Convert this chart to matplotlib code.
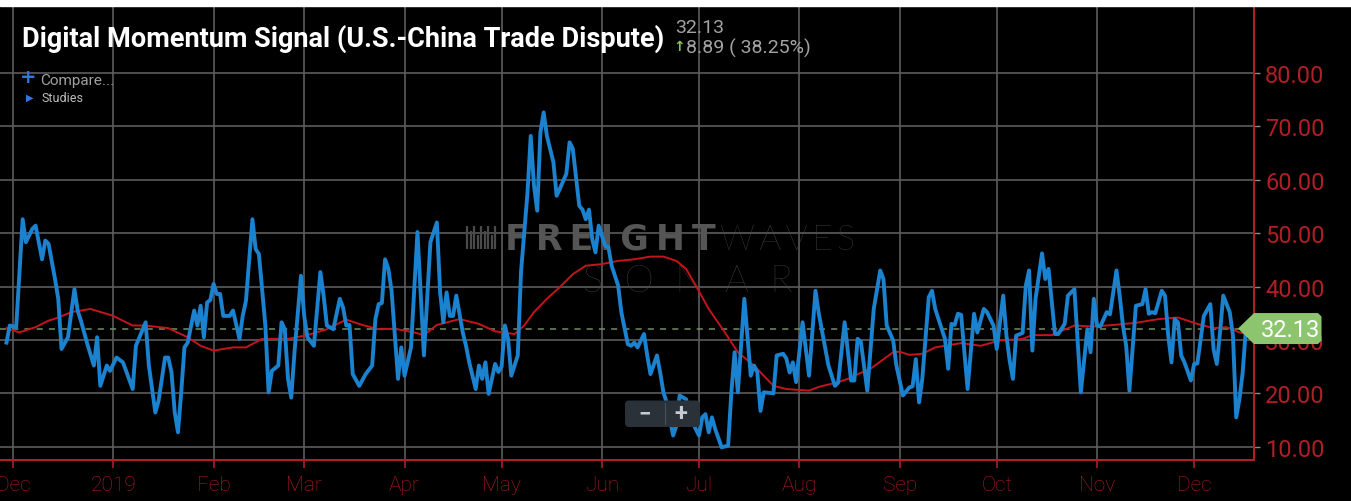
import matplotlib
matplotlib.use('Agg')
import matplotlib.pyplot as plt
import matplotlib.transforms as mtransforms
from matplotlib.patches import Polygon, FancyBboxPatch, Rectangle
from matplotlib.ticker import FormatStrFormatter
import numpy as np

plt.rcParams['font.family'] = ['Roboto', 'DejaVu Sans']

START = np.datetime64('2019-01-01')

# daily momentum signal, days counted from START
signal_day = np.array([
    -33, -32, -30, -28, -27, -25, -24, -22, -21, -20, -18, -17, -16, -14, -12,
    -11, -10, -8, -6, -5, -4, -2, -1, 1, 3, 6, 7, 10, 11, 13, 14, 16, 17, 18,
    19, 20, 21, 22, 23, 25, 26, 27, 28, 29, 30, 31, 32, 33, 34, 36, 37, 39, 40,
    41, 43, 44, 45, 47, 48, 49, 51, 52, 53, 54, 55, 56, 58, 59, 60, 62, 64, 65,
    66, 68, 70, 71, 72, 73, 74, 76, 78, 80, 81, 82, 83, 84, 85, 86, 88, 89, 90,
    92, 94, 96, 98, 100, 101, 102, 103, 104, 105, 106, 108, 109, 110, 112, 113,
    114, 115, 116, 118, 119, 120, 121, 122, 123, 125, 126, 128, 129, 130, 131,
    132, 133, 134, 136, 137, 138, 140, 141, 142, 144, 145, 146, 147, 148, 149,
    150, 152, 153, 154, 156, 157, 159, 160, 161, 162, 164, 165, 166, 168, 169,
    170, 171, 173, 174, 175, 177, 178, 180, 181, 182, 183, 184, 185, 186, 188,
    190, 191, 192, 193, 195, 197, 198, 199, 200, 201, 204, 205, 207, 208, 209,
    210, 211, 213, 215, 217, 218, 221, 223, 224, 226, 228, 229, 230, 231, 233,
    235, 237, 238, 239, 241, 242, 244, 246, 247, 248, 249, 250, 252, 253, 254,
    255, 257, 258, 259, 260, 261, 262, 264, 266, 267, 269, 270, 272, 273, 275,
    276, 277, 278, 279, 281, 282, 283, 284, 285, 287, 288, 289, 291, 292, 294,
    295, 297, 299, 301, 302, 303, 304, 305, 307, 308, 310, 311, 312, 313, 314,
    316, 318, 319, 320, 321, 322, 324, 325, 326, 327, 328, 329, 330, 331, 333,
    334, 335, 337, 339, 340, 341, 342, 343, 345, 346, 347, 348, 349, 350])
signal = np.array([
    29.5, 32.7, 32.4, 52.6, 48.3, 50.8, 51.4, 45.1, 48.6, 48.0, 41.4, 37.7, 28.3,
    30.5, 39.5, 35.5, 33.6, 29.2, 25.2, 30.5, 21.4, 25.2, 24.2, 26.7, 25.8, 20.8,
    28.9, 33.3, 25.2, 16.4, 18.6, 26.7, 26.7, 23.9, 16.4, 12.7, 20.2, 28.6, 29.5,
    35.5, 32.7, 36.4, 30.5, 37.0, 37.5, 40.5, 38.6, 38.6, 34.5, 34.5, 35.5, 30.2,
    34.5, 37.3, 52.6, 47.0, 46.1, 32.7, 20.2, 24.2, 25.2, 33.3, 32.0, 22.7, 19.2,
    27.7, 42.0, 34.5, 30.5, 28.9, 42.7, 38.3, 32.7, 32.0, 37.7, 36.1, 32.7, 32.8,
    23.6, 21.4, 23.6, 25.2, 33.9, 36.7, 36.9, 45.1, 43.3, 39.2, 22.7, 28.6, 23.3,
    28.6, 50.2, 27.1, 48.3, 52.0, 38.9, 33.3, 38.9, 34.5, 34.5, 38.3, 31.4, 28.9,
    25.8, 20.8, 25.2, 22.7, 25.8, 19.9, 25.5, 24.0, 25.0, 32.7, 30.2, 23.3, 27.1,
    42.7, 57.6, 68.2, 58.9, 54.2, 68.9, 72.6, 68.2, 63.3, 57.0, 58.3, 61.1, 67.0,
    65.8, 55.1, 54.4, 52.6, 54.4, 48.9, 46.4, 51.4, 47.6, 47.4, 43.9, 40.2, 35.2,
    29.2, 28.9, 29.5, 28.6, 31.1, 27.1, 23.6, 27.1, 23.9, 20.2, 18.3, 12.1, 13.9,
    19.6, 18.9, 16.1, 13.3, 12.1, 15.5, 16.1, 12.7, 15.5, 13.3, 9.9, 10.2, 20.2,
    27.7, 20.2, 37.7, 23.3, 25.2, 24.0, 16.7, 20.2, 20.0, 27.1, 27.4, 26.5, 23.9,
    25.8, 22.1, 33.3, 23.3, 39.2, 35.0, 25.2, 21.4, 22.0, 33.3, 22.4, 22.4, 30.2,
    29.7, 20.5, 35.8, 43.0, 41.4, 32.7, 29.9, 25.2, 19.6, 21.1, 21.3, 26.4, 18.3,
    22.7, 38.0, 39.2, 35.8, 33.9, 30.2, 24.6, 33.0, 32.8, 34.9, 34.7, 20.8, 34.9,
    31.4, 35.8, 35.2, 32.7, 28.3, 38.3, 30.8, 26.1, 22.7, 30.8, 31.3, 40.2, 43.0,
    28.0, 37.7, 46.2, 41.4, 43.3, 31.1, 31.1, 33.0, 38.3, 39.5, 20.2, 32.0, 27.7,
    37.7, 32.7, 32.5, 35.2, 34.8, 43.0, 38.3, 32.7, 28.9, 20.5, 36.4, 36.7, 39.5,
    34.9, 35.2, 35.0, 39.2, 38.3, 30.8, 25.8, 33.9, 33.3, 27.1, 25.8, 22.4, 25.5,
    25.6, 34.5, 36.7, 28.3, 25.5, 31.4, 38.3, 35.2, 30.8, 15.5, 18.9, 23.9, 32.13])

# moving average study
ma_day = np.array([
    -33, -29, -24, -20, -17, -13, -7, 0, 6, 10, 17, 23, 27, 31, 37, 41, 46, 54,
    60, 66, 72, 77, 82, 87, 93, 96, 100, 107, 113, 118, 124, 127, 130, 134, 138,
    142, 146, 151, 156, 161, 166, 170, 174, 177, 180, 184, 189, 193, 198, 204,
    208, 215, 218, 224, 227, 229, 234, 241, 243, 246, 250, 254, 262, 268, 274,
    281, 284, 290, 297, 303, 309, 316, 323, 329, 335, 340, 344, 348, 350])
ma = np.array([
    32.2, 31.4, 32.4, 33.6, 34.2, 35.2, 35.8, 34.5, 32.7, 32.7, 32.2, 30.5, 28.9,
    28.0, 28.6, 28.6, 30.2, 30.2, 30.9, 32.0, 33.8, 32.8, 32.0, 32.1, 31.4, 30.9,
    32.8, 33.9, 33.0, 31.6, 31.1, 32.7, 35.2, 37.7, 39.9, 42.3, 43.9, 44.2, 44.8,
    45.1, 45.6, 45.6, 44.8, 43.3, 40.2, 35.8, 31.4, 27.7, 25.2, 21.4, 20.8, 20.5,
    21.2, 22.1, 22.7, 23.3, 24.6, 27.7, 27.8, 27.2, 27.4, 28.6, 29.4, 28.9, 29.9,
    30.2, 30.9, 30.9, 32.7, 32.5, 32.8, 33.2, 33.9, 34.2, 33.0, 32.2, 32.4, 31.4,
    31.2])

last_value = 32.13
change = 8.89
change_pct = 38.25

y_ticks = [10, 20, 30, 40, 50, 60, 70, 80]
month_ticks = ['2018-12-01', '2019-01-01', '2019-02-01', '2019-03-01',
               '2019-04-01', '2019-05-01', '2019-06-01', '2019-07-01',
               '2019-08-01', '2019-09-01', '2019-10-01', '2019-11-01',
               '2019-12-01']
month_labels = ['Dec', '2019', 'Feb', 'Mar', 'Apr', 'May', 'Jun', 'Jul',
                'Aug', 'Sep', 'Oct', 'Nov', 'Dec']

RED = '#b01e26'
BLUE = '#1b82cf'
GRID = '#5c5c5c'
W, H = 1351, 502


def fx(x):
    return x / W


def fy(y):
    return 1 - y / H


fig = plt.figure(figsize=(W / 100, H / 100), dpi=100, facecolor='black')
ax = fig.add_axes([0, fy(460.7), fx(1254), (460.7 - 7) / H])
ax.set_facecolor('black')

sig_dates = START + signal_day.astype('timedelta64[D]')
ma_dates = START + ma_day.astype('timedelta64[D]')

ax.plot(ma_dates, ma, color='#c3151b', lw=1.4, zorder=3)
ax.plot(sig_dates, signal, color=BLUE, lw=2.8, zorder=4)
ax.axhline(last_value, color='#6f8f62', lw=1.1, ls=(0, (4, 4)), zorder=2)

ax.set_xlim(np.datetime64('2018-11-27'), np.datetime64('2019-12-19T12:00'))
ax.set_ylim(7.57, 92.53)

ax.set_xticks(np.array(month_ticks, dtype='datetime64[D]'))
ax.set_xticklabels(month_labels)
ax.set_yticks(y_ticks)
ax.yaxis.set_major_formatter(FormatStrFormatter('%.2f'))
ax.yaxis.tick_right()

ax.grid(True, color=GRID, lw=1.2)
ax.set_axisbelow(True)
ax.tick_params(axis='x', length=6, width=1.2, color=RED, labelcolor=RED,
               labelsize=15, pad=5)
ax.tick_params(axis='y', length=4, width=1, color='#8a8a8a', labelcolor=RED,
               labelsize=17, pad=4)
for lab in ax.get_xticklabels():
    lab.set_fontweight('light')

for side in ['left', 'top']:
    ax.spines[side].set_visible(False)
for side in ['right', 'bottom']:
    ax.spines[side].set_color(RED)
    ax.spines[side].set_linewidth(1.5)

# watermark behind the lines
logo_x = [467, 470.5, 474, 477.5, 481, 484.5, 488, 491.5, 495]
logo_top = [227, 232, 227, 236, 227, 232, 227, 236, 227]
ax.vlines([fx(v) for v in logo_x], fy(250), [fy(v) for v in logo_top],
          transform=fig.transFigure, colors='#4a4a4a', lw=1.6, zorder=1)
ax.text(fx(505), fy(250), '\u2009'.join('FREIGHT'), transform=fig.transFigure,
        color='#555555', fontsize=25, fontweight='bold', family='DejaVu Sans',
        va='baseline', zorder=1)
ax.text(fx(720), fy(250), '\u2009'.join('WAVES'), transform=fig.transFigure,
        color='#4d4d4d', fontsize=25, fontweight='light', family='Lato',
        va='baseline', zorder=1)
ax.text(fx(583), fy(292.5), '  '.join('SONAR'), transform=fig.transFigure,
        color='#4d4d4d', fontsize=27, fontweight='light', family='Lato',
        va='baseline', zorder=1)

# header
fig.add_artist(Rectangle((0, fy(7)), 1, 7 / H, transform=fig.transFigure,
                         color='white', zorder=5))
fig.text(fx(22), fy(47), 'Digital Momentum Signal (U.S.-China Trade Dispute)',
         color='white', fontsize=19.5, fontweight='bold', va='baseline')
fig.text(fx(675), fy(33), f'{last_value:.2f}', color='#a3a3a3', fontsize=14,
         va='baseline')
fig.text(fx(679.5), fy(47), '\u2191', color='#8bc34a', fontsize=10,
         fontweight='bold', family='DejaVu Sans', ha='center', va='center')
fig.text(fx(686), fy(54), f'{change:.2f} ( {change_pct:.2f}%)',
         color='#a3a3a3', fontsize=14, va='baseline')
fig.text(fx(28.5), fy(77.5), '+', color='#2f78e0', fontsize=14,
         fontweight='bold', family='DejaVu Sans', ha='center', va='center')
fig.text(fx(40), fy(85), 'Compare...', color='#a0a0a0', fontsize=11,
         va='baseline')
fig.text(fx(29.5), fy(97.5), '\u25b6', color='#2f78e0', fontsize=7,
         family='DejaVu Sans', ha='center', va='center')
fig.text(fx(41), fy(101.7), 'Studies', color='#bdbdbd', fontsize=9,
         va='baseline')

# zoom control
pix = mtransforms.IdentityTransform()
fig.add_artist(FancyBboxPatch((625, H - 428), 75, 26.5,
                              boxstyle='round,pad=0,rounding_size=4',
                              transform=pix, fc='#2a3139', ec='none',
                              zorder=2))
fig.add_artist(Rectangle((664.5, H - 426), 1, 22.5, transform=pix,
                         fc='#4a525b', ec='none', zorder=2))
fig.text(fx(644.5), fy(414.5), '\u2212', color='#c5cbd1', fontsize=16,
         fontweight='bold', ha='center', va='center', zorder=3)
fig.text(fx(681), fy(414.5), '+', color='#c5cbd1', fontsize=17,
         fontweight='bold', ha='center', va='center', zorder=3)

# last value marker on the price axis
x0, y0 = mtransforms.blended_transform_factory(
    ax.transAxes, ax.transData).transform((1, last_value))
tag = [(-16, 0), (0, 15.5), (64, 15.5), (67.5, 12), (67.5, -12),
       (64, -15.5), (0, -15.5)]
fig.add_artist(Polygon([(x0 + dx, y0 + dy) for dx, dy in tag], closed=True,
                       transform=pix, fc='#8cc56e', ec='none', zorder=2))
fig.text(fx(1290), (y0 - 1) / H, f'{last_value:.2f}', color='white',
         fontsize=17, ha='center', va='center', zorder=3)

fig.savefig('out.png', dpi=100, facecolor='black')
